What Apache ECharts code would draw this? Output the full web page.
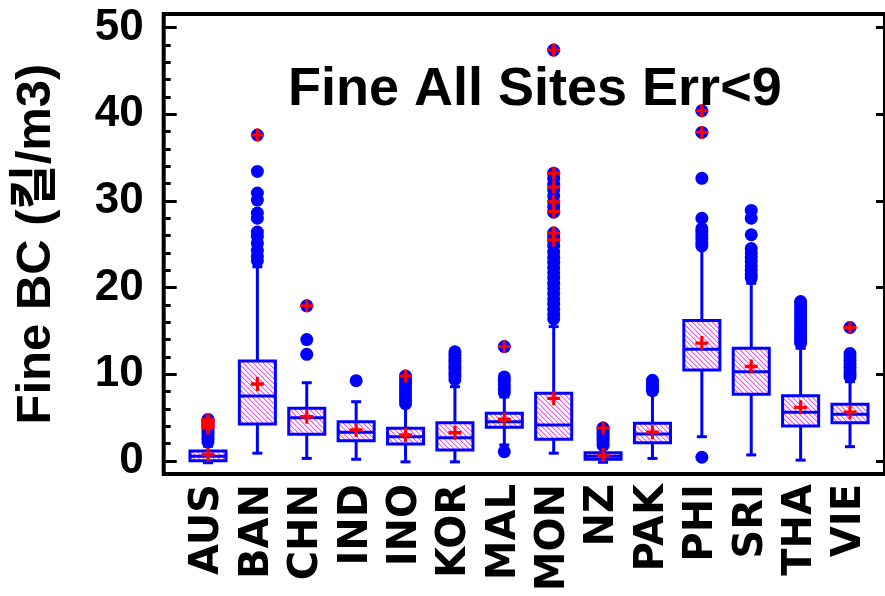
<!DOCTYPE html>
<html>
<head>
<meta charset="utf-8">
<script src="https://cdn.jsdelivr.net/npm/echarts@6/dist/echarts.min.js"></script>
<style>html,body{margin:0;padding:0;background:#fff;}#chart{width:885px;height:596px;}</style>
</head>
<body>
<div id="chart"></div>
<script>
const categories = ['AUS','BAN','CHN','IND','INO','KOR','MAL','MON','NZ','PAK','PHI','SRI','THA','VIE'];
const whiskerLow  = [-0.2, 0.9, 0.3, 0.2, -0.1, -0.1, 1.85, 0.9, -0.15, 0.3, 2.8, 0.7, 0.1, 1.65];
const q1          = [0.03, 4.27, 3.08, 2.34, 1.96, 1.27, 3.89, 2.5, 0.2, 2.11, 10.5, 7.69, 4.04, 4.42];
const median      = [0.55, 7.5, 5.0, 3.31, 2.8, 2.69, 4.53, 4.15, 0.55, 3.11, 12.9, 10.3, 5.62, 5.39];
const q3          = [1.15, 11.53, 6.08, 4.53, 3.77, 4.42, 5.5, 7.8, 0.96, 4.35, 16.2, 13.0, 7.53, 6.54];
const whiskerHigh = [1.7, 22.4, 9.03, 6.84, 6.4, 8.57, 7.4, 15.5, 1.5, 7.7, 24.5, 20.5, 13.0, 9.15];
const means       = [0.75, 8.88, 5.1, 3.58, 3.0, 3.26, 4.81, 7.23, 0.68, 3.31, 13.6, 10.9, 6.19, 5.62];
const outliers = [
  [2.2, 2.5, 2.8, 3.1, 3.4, 3.7, 4.0, 4.3, 4.6, 4.8],
  [37.6, 33.4, 30.9, 30.1, 28.6, 28.0, 26.4, 25.9, 25.1, 24.3, 23.6, 23.1],
  [17.9, 14.0, 12.3],
  [9.26],
  [9.8, 9.4, 9.0, 8.6, 8.2, 7.8, 7.4, 7.0, 6.6],
  [12.6, 12.2, 11.8, 11.4, 11.0, 10.6, 10.2, 9.8, 9.4],
  [13.2, 9.7, 9.3, 8.8, 8.3, 7.9, 1.07],
  [47.4, 33.2, 32.6, 31.9, 31.3, 30.6, 29.9, 29.3, 28.7, 26.3, 25.8, 25.4, 24.8, 24.1, 23.5, 22.9, 22.3, 21.7, 21.1, 20.5, 19.9, 19.3, 18.7, 18.1, 17.5, 16.9, 16.4],
  [1.8, 2.1, 2.4, 2.7, 3.0, 3.3, 3.6, 3.8],
  [9.3, 9.0, 8.7, 8.4, 8.1],
  [40.4, 37.9, 32.6, 28.0, 26.8, 26.4, 26.0, 25.6, 25.2, 24.8, 0.43],
  [28.9, 28.0, 26.1, 24.5, 24.0, 23.5, 23.0, 22.5, 22.0, 21.5, 21.1],
  [18.4, 18.0, 17.6, 17.2, 16.8, 16.4, 16.0, 15.6, 15.2, 14.8, 14.4, 14.0, 13.6],
  [15.4, 12.4, 12.0, 11.6, 11.2, 10.8, 10.4, 10.0, 9.7]
];
const redMarked = [
  [3.8, 4.0, 4.2, 4.4, 4.6, 4.8],
  [37.6], [17.9], [], [9.8], [], [13.2],
  [47.4, 33.2, 31.6, 29.9, 28.8, 26.3, 25.5],
  [3.8], [], [40.4, 37.9], [], [], [15.4]
];
const yMajorTicks = [0, 10, 20, 30, 40, 50];
const yMinorTicks = [2, 4, 6, 8, 12, 14, 16, 18, 22, 24, 26, 28, 32, 34, 36, 38, 42, 44, 46, 48];
const titleText = 'Fine All Sites Err<9';
const yAxisTitle = 'Fine BC (킬/m3)';

const Y_MIN = -1.5, Y_MAX = 51.56;

// hatch pattern
const pc = document.createElement('canvas');
pc.width = 5; pc.height = 5;
const pctx = pc.getContext('2d');
pctx.fillStyle = '#ffffff'; pctx.fillRect(0, 0, 5, 5);
for (let i = 0; i < 5; i++) {
  pctx.fillStyle = 'rgb(255,190,255)'; pctx.fillRect((i + 1) % 5, i, 1, 1);
  pctx.fillStyle = 'rgb(255,70,255)'; pctx.fillRect(i, i, 1, 1);
}
const hatch = { image: pc, repeat: 'repeat' };

const boxData = categories.map((c, i) => [i, whiskerLow[i], q1[i], median[i], q3[i], whiskerHigh[i]]);
const outlierData = [];
outliers.forEach((arr, i) => arr.forEach(v => outlierData.push([i, v])));
const redData = [];
redMarked.forEach((arr, i) => arr.forEach(v => redData.push([i, v])));
const meanData = means.map((v, i) => [i, v]);

const BLUE = '#0000ff', RED = '#ff0000';
const PLUS = 'path://M3.8,0H6.2V3.8H10V6.2H6.2V10H3.8V6.2H0V3.8H3.8Z';

function renderBox(params, api) {
  const idx = api.value(0);
  const lo = api.coord([idx, api.value(1)]);
  const b1 = api.coord([idx, api.value(2)]);
  const md = api.coord([idx, api.value(3)]);
  const b3 = api.coord([idx, api.value(4)]);
  const hi = api.coord([idx, api.value(5)]);
  const bw = api.size([1, 0])[0] * 0.73;
  const x = md[0];
  const ls = { stroke: BLUE, lineWidth: 3 };
  return {
    type: 'group',
    children: [
      { type: 'line', shape: { x1: x, y1: hi[1], x2: x, y2: b3[1] }, style: ls },
      { type: 'line', shape: { x1: x, y1: b1[1], x2: x, y2: lo[1] }, style: ls },
      { type: 'line', shape: { x1: x - 5, y1: hi[1], x2: x + 5, y2: hi[1] }, style: ls },
      { type: 'line', shape: { x1: x - 5, y1: lo[1], x2: x + 5, y2: lo[1] }, style: ls },
      { type: 'rect', shape: { x: x - bw / 2, y: b3[1], width: bw, height: b1[1] - b3[1] },
        style: { fill: hatch, stroke: BLUE, lineWidth: 3 } },
      { type: 'line', shape: { x1: x - bw / 2, y1: md[1], x2: x + bw / 2, y2: md[1] }, style: ls }
    ]
  };
}

const chart = echarts.init(document.getElementById('chart'), null, { renderer: 'canvas' });
chart.setOption({
  animation: false,
  backgroundColor: '#ffffff',
  title: {
    text: titleText, left: 283, top: 58,
    textStyle: { fontFamily: 'Liberation Sans, Arial, sans-serif', fontWeight: 'bold', fontSize: 54, color: '#000' }
  },
  grid: [
    { left: 163.7, right: -5, top: 14, bottom: 122, show: true, borderColor: '#000', borderWidth: 4, backgroundColor: 'transparent' },
    { left: 183.3, right: 10.3, top: 14, bottom: 122 }
  ],
  xAxis: [
    { gridIndex: 0, type: 'value', min: 0, max: 1, show: false },
    { gridIndex: 1, type: 'category', data: categories,
      axisLine: { show: false }, axisTick: { show: false }, splitLine: { show: false },
      axisLabel: { rotate: 90, margin: 10, interval: 0, color: '#000', fontSize: 40, fontWeight: 'bold', fontFamily: 'DejaVu Sans, sans-serif' } }
  ],
  yAxis: [
    { gridIndex: 0, type: 'value', min: Y_MIN, max: Y_MAX, position: 'left',
      name: yAxisTitle, nameLocation: 'middle', nameRotate: 90, nameGap: 103,
      nameTextStyle: { fontFamily: 'Liberation Sans, Arial, Noto Sans CJK KR, sans-serif', fontWeight: 'bold', fontSize: 49, color: '#000' },
      axisLine: { show: false }, splitLine: { show: false },
      axisTick: { show: true, inside: true, length: 13, customValues: yMajorTicks, lineStyle: { color: '#000', width: 3 } },
      axisLabel: { customValues: yMajorTicks, margin: 20, color: '#000', fontSize: 44, fontWeight: 'bold', fontFamily: 'Liberation Sans, Arial, sans-serif' } },
    { gridIndex: 0, type: 'value', min: Y_MIN, max: Y_MAX, position: 'left',
      axisLine: { show: false }, splitLine: { show: false }, axisLabel: { show: false },
      axisTick: { show: true, inside: true, length: 7, customValues: yMinorTicks, lineStyle: { color: '#000', width: 3 } } },
    { gridIndex: 0, type: 'value', min: Y_MIN, max: Y_MAX, position: 'right',
      axisLine: { show: false }, splitLine: { show: false }, axisLabel: { show: false },
      axisTick: { show: true, inside: true, length: 9, customValues: yMajorTicks, lineStyle: { color: '#000', width: 3 } } },
    { gridIndex: 1, type: 'value', min: Y_MIN, max: Y_MAX, show: false }
  ],
  series: [
    { type: 'custom', xAxisIndex: 1, yAxisIndex: 3, data: boxData, renderItem: renderBox,
      encode: { x: 0, y: [1, 2, 3, 4, 5] }, z: 2 },
    { type: 'scatter', xAxisIndex: 1, yAxisIndex: 3, data: outlierData, symbol: 'circle', symbolSize: 13,
      itemStyle: { color: BLUE, opacity: 1 }, z: 3 },
    { type: 'scatter', xAxisIndex: 1, yAxisIndex: 3, data: redData, symbol: PLUS, symbolSize: 13,
      itemStyle: { color: RED, opacity: 1 }, z: 4 },
    { type: 'scatter', xAxisIndex: 1, yAxisIndex: 3, data: meanData, symbol: PLUS, symbolSize: [13, 14],
      itemStyle: { color: RED, opacity: 1 }, z: 4 }
  ]
});
</script>
</body>
</html>
